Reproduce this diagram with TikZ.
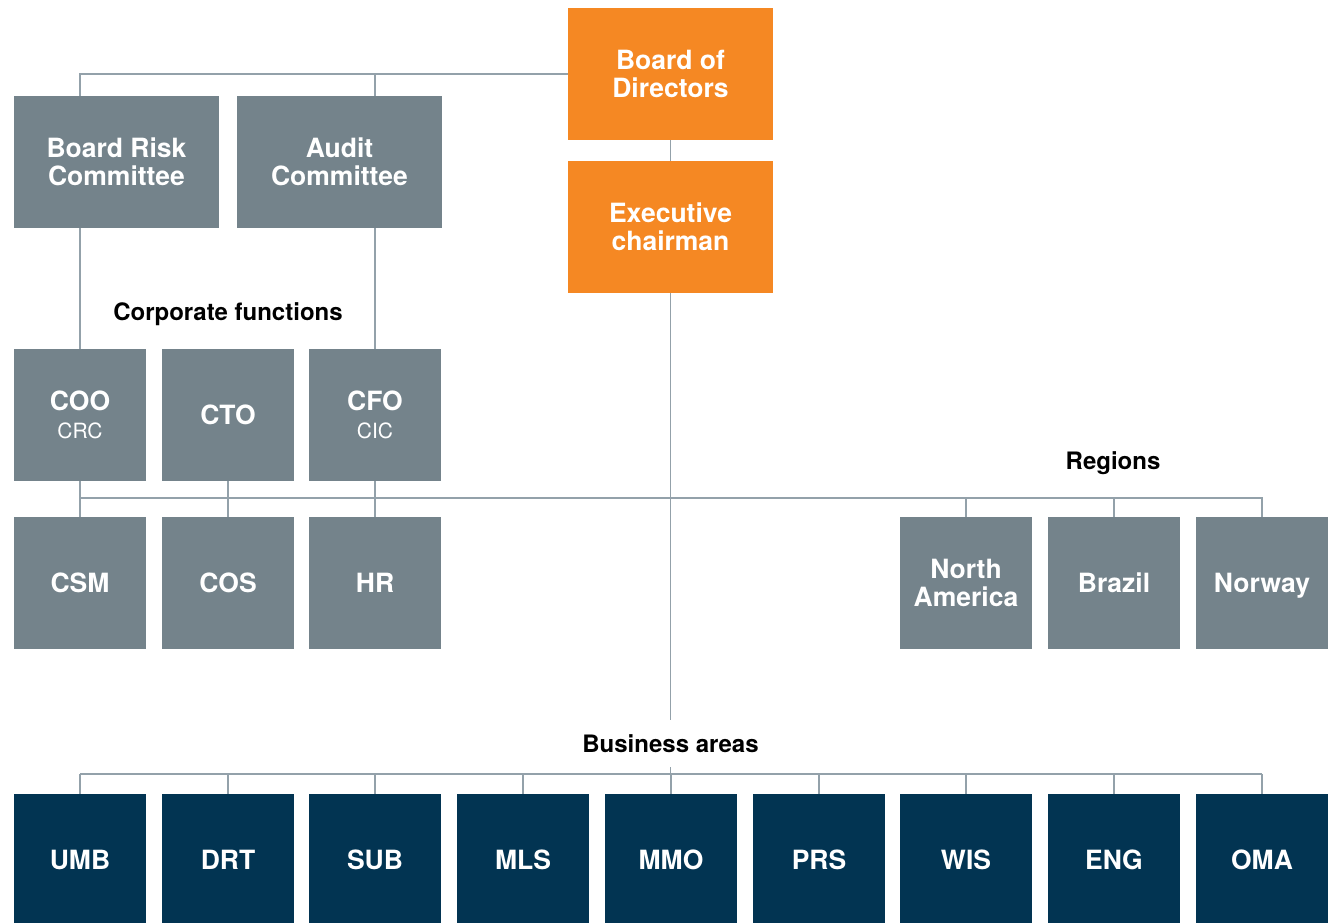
\documentclass[tikz,border=0pt]{standalone}
\usepackage{fontspec}
\setmainfont{TeX Gyre Heros}
\usetikzlibrary{positioning}

\definecolor{boardorange}{HTML}{F58823}
\definecolor{unitgrey}{HTML}{74838B}
\definecolor{areanavy}{HTML}{023452}
\definecolor{linkgrey}{HTML}{93A1AA}

\tikzset{
  unit/.style={rectangle, fill=unitgrey, text=white, inner sep=0pt,
    minimum width=132pt, minimum height=132pt, align=center,
    font=\bfseries\fontsize{26.5}{28}\selectfont},
  wide/.style={unit, minimum width=205pt},
  board/.style={wide, fill=boardorange},
  area/.style={unit, fill=areanavy},
  heading/.style={inner sep=0pt, font=\bfseries\fontsize{24}{26}\selectfont},
  link/.style={draw=linkgrey, line width=1.3pt},
}
\newcommand{\sub}[1]{\\[0pt]{\normalfont\fontsize{21}{23}\selectfont #1}}

\begin{document}
\begin{tikzpicture}[x=1pt,y=-1pt]
\useasboundingbox (0,0) rectangle (1332,922);

% board and chairman
\node[board] (bod) at (670.5,74) {Board of\\Directors};
\node[board] (exec) at (670.5,227) {Executive\\chairman};

% committees
\node[wide] (brc) at (116.5,162) {Board Risk\\Committee};
\node[wide] (audit) at (339.5,162) {Audit\\Committee};

% corporate functions
\node[heading] (corplabel) at (228,314) {Corporate functions};
\node[unit] (coo) at (80,415) {COO\sub{CRC}};
\node[unit] (cto) at (228,415) {CTO};
\node[unit] (cfo) at (375,415) {CFO\sub{CIC}};
\node[unit] (csm) at (80,583) {CSM};
\node[unit] (cos) at (228,583) {COS};
\node[unit] (hr) at (375,583) {HR};

% regions
\node[heading] (reglabel) at (1113,463) {Regions};
\node[unit] (na) at (966,583) {North\\America};
\node[unit] (brazil) at (1114,583) {Brazil};
\node[unit, text depth=0pt] (norway) at (1262,583) {Norway};

% business areas
\node[heading, minimum height=47pt] (bizlabel) at (670.5,743.5) {Business areas};
\node[area] (umb) at (80,860) {UMB};
\node[area] (drt) at (228,860) {DRT};
\node[area] (sub) at (375,860) {SUB};
\node[area] (mls) at (523,860) {MLS};
\node[area] (mmo) at (671,860) {MMO};
\node[area] (prs) at (819,860) {PRS};
\node[area] (wis) at (966,860) {WIS};
\node[area] (eng) at (1114,860) {ENG};
\node[area] (oma) at (1262,860) {OMA};

\coordinate (hub) at (670.5,498);
\coordinate (bizbar) at (670.5,774);

% top level links
\draw[link] (brc.north -| coo) |- (bod.west);
\draw[link] (audit.north -| cfo) -- (cfo |- bod.west);
\draw[link] (bod) -- (exec);
\draw[link] (brc.south -| coo) -- (coo);
\draw[link] (audit.south -| cfo) -- (cfo);

% corporate functions and regions
\draw[link] (coo.south |- hub) -- (norway.north |- hub) -- (norway.north);
\draw[link] (coo) -- (csm);
\draw[link] (cto) -- (cos);
\draw[link] (cfo) -- (hr);
\foreach \r in {na,brazil}
  \draw[link] (\r.north |- hub) -- (\r.north);

% business areas
\draw[link] (exec) -- (bizlabel.north);
\draw[link] (bizlabel.south) -- (bizbar);
\draw[link] (umb.north |- bizbar) -- (oma.north |- bizbar);
\foreach \a in {umb,drt,sub,mls,mmo,prs,wis,eng,oma}
  \draw[link] (\a.north |- bizbar) -- (\a.north);
\end{tikzpicture}
\end{document}
